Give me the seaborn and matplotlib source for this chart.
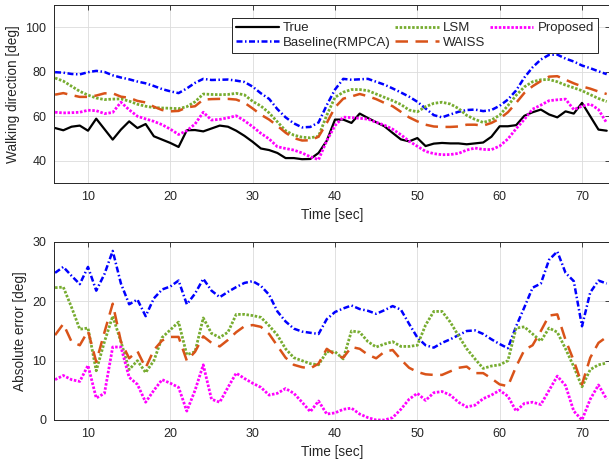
import matplotlib
matplotlib.use("Agg")
import matplotlib.pyplot as plt
import seaborn as sns

# ---------------- data ----------------
time_sec = list(range(6, 74))

true_dir = [54.7, 53.7, 55.3, 55.8, 53.5, 58.9, 54.2, 49.5, 54.0, 57.7, 54.7, 56.5, 51.0, 49.5, 48.0, 46.2, 53.7,
            53.8, 53.2, 54.5, 55.8, 55.3, 53.5, 51.2, 48.5, 45.5, 44.8, 43.5, 41.2, 41.2, 40.7, 40.8, 43.5, 49.0,
            58.5, 58.5, 57.0, 61.2, 59.2, 57.3, 55.5, 52.5, 49.6, 48.7, 50.2, 46.6, 47.7, 48.0, 47.8, 47.8,
            47.4, 47.8, 48.2, 50.8, 55.5, 55.5, 56.0, 60.2, 61.8, 63.0, 60.8, 59.5, 62.2, 61.2, 66.0, 60.0, 54.0, 53.5]
baseline_dir = [79.8, 79.6, 79.0, 78.8, 79.8, 80.4, 79.9, 78.4, 77.4, 76.6, 75.6, 74.8, 73.6, 72.2, 71.2, 70.4, 72.5,
                75.0, 76.8, 76.3, 76.4, 76.5, 76.0, 75.4, 73.3, 70.3, 67.8, 63.2, 59.5, 56.8, 55.0, 55.2, 57.2, 65.0,
                72.0, 76.8, 76.4, 76.6, 76.8, 75.5, 74.2, 72.5, 70.7, 68.8, 66.5, 63.5, 60.5, 59.5, 60.8, 62.0,
                62.8, 63.0, 62.3, 62.8, 64.7, 67.5, 71.6, 77.4, 82.0, 85.5, 87.6, 87.7, 85.9, 84.6, 82.8, 81.6, 80.2, 78.9]
lsm_dir = [77.2, 75.8, 73.5, 71.2, 69.5, 68.2, 67.5, 67.7, 67.8, 66.8, 65.4, 64.5, 63.9, 63.7, 63.6, 63.4, 64.3,
           66.5, 70.0, 69.8, 69.7, 69.8, 70.3, 69.6, 66.7, 64.6, 61.5, 57.5, 53.5, 51.5, 50.6, 50.3, 51.0, 60.5,
           68.5, 70.8, 72.0, 72.0, 71.5, 70.0, 68.5, 67.0, 65.3, 62.8, 62.0, 64.3, 65.8, 66.3, 65.5, 63.5,
           60.4, 58.6, 57.2, 58.3, 60.5, 64.8, 69.4, 73.2, 75.5, 76.4, 76.5, 75.5, 74.0, 72.8, 71.5, 69.7, 68.0, 66.6]
waiss_dir = [69.7, 70.4, 69.5, 68.7, 68.7, 69.3, 70.3, 70.3, 68.8, 68.3, 66.9, 66.2, 64.3, 62.8, 62.2, 62.4, 64.0,
             64.5, 67.5, 67.7, 67.8, 67.8, 67.5, 66.1, 63.5, 60.7, 58.5, 55.7, 52.6, 50.2, 49.1, 49.2, 50.8, 57.0,
             64.0, 67.9, 68.9, 70.0, 69.0, 67.7, 66.0, 64.5, 62.0, 59.5, 57.7, 56.2, 55.4, 55.2, 55.2, 55.4,
             56.2, 56.2, 55.8, 57.0, 58.9, 61.8, 66.0, 70.5, 73.5, 75.8, 77.8, 78.0, 76.4, 74.8, 73.4, 72.4, 71.1, 70.0]
proposed_dir = [61.8, 61.5, 61.6, 61.8, 62.7, 62.5, 61.2, 61.7, 66.3, 62.9, 60.0, 58.8, 57.7, 56.2, 54.2, 51.8, 53.5,
                56.5, 61.8, 58.3, 58.6, 59.3, 60.2, 58.0, 55.3, 52.3, 49.8, 46.3, 45.5, 44.8, 43.5, 41.8, 40.5, 49.0,
                55.8, 59.6, 59.4, 59.1, 58.7, 57.3, 56.0, 54.2, 51.7, 48.8, 46.5, 44.2, 43.2, 42.7, 42.8, 43.3,
                44.8, 45.7, 45.1, 45.0, 46.6, 49.8, 54.4, 58.6, 63.2, 65.0, 67.0, 67.4, 67.7, 63.0, 64.5, 65.5, 63.0, 57.0]

baseline_err = [24.8, 25.8, 24.3, 22.9, 25.8, 21.8, 24.6, 28.5, 23.0, 19.5, 20.3, 17.5, 20.5, 22.0, 22.5, 23.5, 19.5,
                21.3, 23.8, 21.8, 20.7, 21.6, 22.4, 23.1, 23.4, 22.6, 21.1, 18.3, 16.6, 15.4, 14.9, 14.7, 14.5, 17.0,
                18.2, 18.8, 19.3, 18.7, 18.4, 17.9, 18.5, 19.2, 18.6, 16.2, 13.9, 12.6, 12.2, 13.0, 13.6, 14.3,
                15.0, 15.1, 14.5, 13.6, 12.8, 12.1, 15.8, 19.0, 22.3, 23.0, 27.0, 28.4, 24.8, 23.4, 15.8, 21.5, 23.5, 23.0]
lsm_err = [22.3, 22.4, 19.0, 15.3, 15.5, 8.3, 13.2, 17.5, 13.2, 8.5, 10.0, 8.0, 10.0, 13.9, 15.2, 16.5, 11.0,
           11.5, 17.2, 14.6, 13.9, 14.8, 17.8, 17.8, 17.6, 17.3, 15.9, 14.3, 12.0, 10.5, 10.0, 9.5, 9.3, 11.5,
           11.5, 10.3, 15.0, 14.8, 13.2, 12.3, 12.8, 13.2, 12.4, 12.4, 12.6, 16.0, 18.3, 18.3, 16.5, 14.2,
           12.0, 10.3, 8.7, 9.1, 9.3, 10.0, 15.5, 15.7, 14.5, 13.3, 15.5, 14.8, 12.0, 9.0, 5.6, 8.5, 9.3, 9.6]
waiss_err = [14.3, 16.2, 13.2, 12.6, 15.0, 9.8, 14.8, 19.6, 13.2, 10.4, 11.6, 8.8, 11.8, 13.4, 14.0, 14.0, 10.0,
             11.5, 14.1, 13.0, 12.4, 13.5, 14.8, 15.8, 16.0, 15.7, 14.5, 12.5, 10.5, 9.3, 8.9, 8.7, 9.5, 12.0,
             11.0, 10.5, 12.3, 12.0, 11.0, 10.4, 11.5, 11.8, 10.2, 8.8, 8.1, 7.7, 7.6, 7.6, 8.2, 8.8,
             9.0, 7.9, 7.9, 7.0, 6.0, 5.7, 9.0, 11.8, 12.6, 15.0, 17.6, 17.8, 13.5, 10.0, 6.0, 10.5, 13.0, 14.0]
proposed_err = [6.8, 7.5, 6.8, 6.5, 9.2, 3.7, 4.5, 12.3, 12.3, 7.2, 6.0, 3.0, 5.0, 6.8, 6.2, 5.5, 1.5,
                5.0, 9.3, 3.5, 3.0, 5.5, 7.9, 7.0, 6.2, 5.5, 4.2, 4.5, 5.3, 4.5, 3.0, 1.4, 3.2, 1.0,
                1.2, 1.8, 2.0, 1.0, 0.4, 0.0, 0.0, 0.4, 1.8, 3.5, 4.5, 3.3, 4.6, 4.8, 4.2, 3.0,
                2.2, 2.5, 3.6, 4.2, 5.0, 4.0, 1.5, 2.8, 3.0, 2.6, 5.0, 7.4, 5.8, 1.5, 0.0, 3.5, 5.9, 3.5]

labels = ["True", "Baseline(RMPCA)", "LSM", "WAISS", "Proposed"]
x_ticks = [10, 20, 30, 40, 50, 60, 70]
top_yticks = [40, 60, 80, 100]
bot_yticks = [0, 10, 20, 30]

# ---------------- style ----------------
sns.set_theme(style="whitegrid")
plt.rcParams["font.family"] = ["Liberation Sans", "DejaVu Sans"]

styles = {
    "True": dict(color="black", linestyle="-", lw=1.6),
    "Baseline(RMPCA)": dict(color="#0000FF", linestyle=(0, (2.4, 1.0, 0.6, 1.0)), lw=1.8),
    "LSM": dict(color="#77AC30", linestyle=(0, (0.9, 0.6)), lw=2.0),
    "WAISS": dict(color="#D95319", linestyle=(0, (5.0, 3.0)), lw=1.8),
    "Proposed": dict(color="#FF00FF", linestyle=(0, (0.9, 0.6)), lw=2.0),
}

W, H = 609, 467
fig = plt.figure(figsize=(W / 100, H / 100), dpi=100)
ax1 = fig.add_axes([54 / W, (H - 183) / H, 556 / W, 178 / H])
ax2 = fig.add_axes([54 / W, (H - 420) / H, 556 / W, 178 / H])

top_series = [true_dir, baseline_dir, lsm_dir, waiss_dir, proposed_dir]
for name, vals in zip(labels, top_series):
    sns.lineplot(x=time_sec, y=vals, ax=ax1, label=name, **styles[name])

bot_series = [baseline_err, lsm_err, waiss_err, proposed_err]
for name, vals in zip(labels[1:], bot_series):
    sns.lineplot(x=time_sec, y=vals, ax=ax2, legend=False, **styles[name])

dark = "#262626"
for ax, yt, yl, ylab in [(ax1, top_yticks, (30, 110), "Walking direction [deg]"),
                         (ax2, bot_yticks, (0, 30), "Absolute error [deg]")]:
    ax.set_xlim(5.87, 73.4)
    ax.set_ylim(*yl)
    ax.set_xticks(x_ticks)
    ax.set_yticks(yt)
    ax.set_xlabel("Time [sec]", fontsize=9.8, color=dark, labelpad=4)
    ax.set_ylabel(ylab, fontsize=9.8, color=dark, labelpad=4)
    ax.grid(True, color="#dcdcdc", lw=0.6)
    ax.set_facecolor("white")
    for s in ax.spines.values():
        s.set_visible(True)
        s.set_color(dark)
        s.set_linewidth(0.7)
    ax.tick_params(direction="in", top=True, right=True, length=3.5, width=0.6,
                   color=dark, labelcolor=dark, labelsize=9, pad=5.5)

leg = ax1.legend(ncol=3, loc="upper right", bbox_to_anchor=(0.978, 0.927),
                 frameon=True, fancybox=False, edgecolor=dark, framealpha=1,
                 fontsize=9.5, handlelength=3.3, handletextpad=0.3, columnspacing=0.35,
                 labelspacing=0.2, borderpad=0.3, borderaxespad=0)
leg.get_frame().set_linewidth(0.7)
for t in leg.get_texts():
    t.set_color(dark)

fig.savefig("out.png", dpi=100)
